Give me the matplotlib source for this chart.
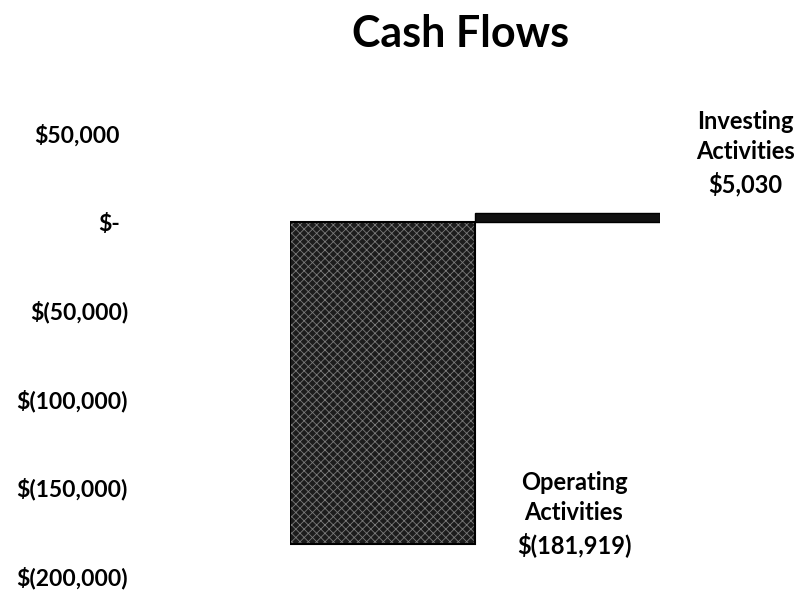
import matplotlib
matplotlib.use("Agg")
import matplotlib.pyplot as plt
from matplotlib.transforms import ScaledTranslation

categories = ["Operating\nActivities", "Investing\nActivities"]
values = [-181919, 5030]
value_labels = ["$(181,919)", "$5,030"]
tick_values = [50000, 0, -50000, -100000, -150000, -200000]
tick_labels = ["$50,000", "$-", "$(50,000)", "$(100,000)", "$(150,000)", "$(200,000)"]
title = "Cash Flows"

plt.rcParams['font.family'] = ['Lato', 'DejaVu Sans']
plt.rcParams['hatch.linewidth'] = 0.6

fig = plt.figure(figsize=(7.96, 5.92), dpi=100)
ax = fig.add_axes([290/796, 1-576/592, 370/796, (576-133.5)/592])

x = list(range(len(values)))
# textured fill for the operating bar, solid for investing
ax.bar(x[0], values[0], width=1.0, color='#1c1c1c', edgecolor='#7a7a7a',
       hatch='xxxx', linewidth=0)
ax.bar(x[0], values[0], width=1.0, fill=False, edgecolor='black', linewidth=1.5)
ax.bar(x[1], values[1], width=1.0, color='#111111', edgecolor='black', linewidth=1.0)

ax.set_xlim(-0.5, 1.5)
ax.set_ylim(-200000, 50000)
ax.set_yticks(tick_values)
ax.set_yticklabels(tick_labels, fontsize=16.5, fontweight='bold')
ax.tick_params(axis='y', length=0, pad=162/100*72)
ax.set_xticks([])
for s in ax.spines.values():
    s.set_visible(False)

# accounting alignment: non-negative labels leave room for ")"
for tick, v in zip(ax.yaxis.get_major_ticks(), tick_values):
    if v >= 0:
        lab = tick.label1
        lab.set_transform(lab.get_transform() + ScaledTranslation(-8/100, 0, fig.dpi_scale_trans))

fig.text(461/796, 1-34/592, title, ha='center', va='center', fontsize=31, fontweight='bold')

# data labels
offsets = [(99, 30), (85, 60)]
for i, (cat, v, vl) in enumerate(zip(categories, values, value_labels)):
    dx, dy = offsets[i]
    ax.annotate(cat + "\n" + vl, xy=(x[i] + 0.5, v), xycoords='data',
                xytext=(dx * 0.72, dy * 0.72), textcoords='offset points',
                ha='center', va='center', fontsize=17, fontweight='bold',
                linespacing=1.4, annotation_clip=False)

fig.savefig("out.png", dpi=100)
